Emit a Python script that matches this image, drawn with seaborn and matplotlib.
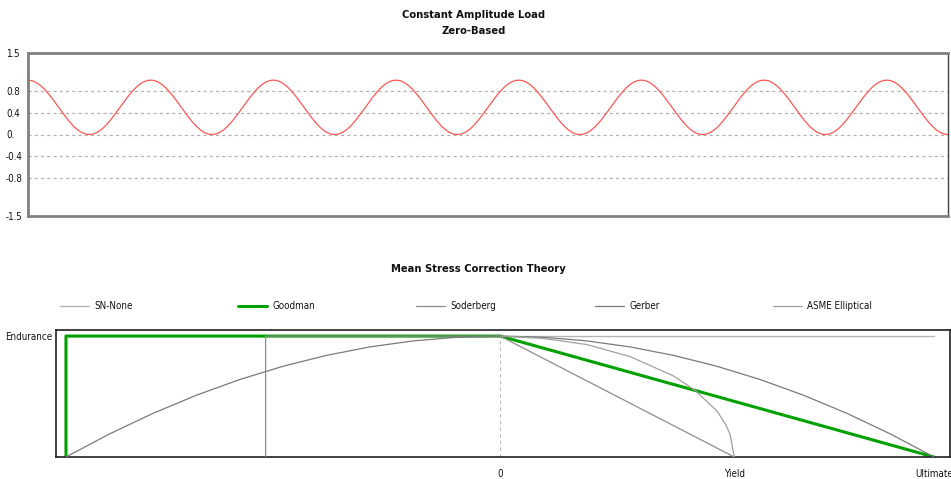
import numpy as np
import pandas as pd
import matplotlib
matplotlib.use("Agg")
import matplotlib.pyplot as plt
from matplotlib.legend import Legend
import seaborn as sns

# ---------------- data ----------------
# Constant amplitude, zero-based load
load_max = 1.0
load_min = 0.0
n_cycles = 7.5
load_yticks = [1.5, 0.8, 0.4, 0.0, -0.4, -0.8, -1.5]
load_yticklabels = ["1.5", "0.8", "0.4", "0.", "-0.4", "-0.8", "-1.5"]
load_grid = [0.8, 0.4, 0.0, -0.4, -0.8]

# Mean stress correction (x: mean stress / ultimate, y: alternating / endurance)
endurance = 1.0
yield_s = 0.54
ultimate = 1.0

sn_none_x = [-1.0, 1.0]
sn_none_y = [1.0, 1.0]

goodman_x = [-1.0, -1.0, 0.0, 1.0]
goodman_y = [0.0, 1.0, 1.0, 0.0]

soderberg_x = [-0.54, -0.54, 0.0, 0.54]
soderberg_y = [0.0, 1.0, 1.0, 0.0]

gerber_x = [-1.0, -0.9, -0.8, -0.7, -0.6, -0.5, -0.4, -0.3, -0.2, -0.1, 0.0,
            0.1, 0.2, 0.3, 0.4, 0.5, 0.6, 0.7, 0.8, 0.9, 1.0]
gerber_y = [0.0, 0.19, 0.36, 0.51, 0.64, 0.75, 0.84, 0.91, 0.96, 0.99, 1.0,
            0.99, 0.96, 0.91, 0.84, 0.75, 0.64, 0.51, 0.36, 0.19, 0.0]

asme_x = [0.0, 0.1, 0.2, 0.3, 0.4, 0.45, 0.5, 0.52, 0.53, 0.54]
asme_y = [1.0, 0.98, 0.93, 0.83, 0.67, 0.55, 0.38, 0.27, 0.19, 0.0]

mean_xticks = [0.0, yield_s, ultimate]
mean_xticklabels = ["0", "Yield", "Ultimate"]

# ---------------- style ----------------
sns.set_style("white")
plt.rcParams["font.family"] = ["Liberation Sans Narrow", "DejaVu Sans Condensed",
                               "DejaVu Sans"]
plt.rcParams["font.stretch"] = "condensed"

fig = plt.figure(figsize=(9.51, 4.79), dpi=100)
PT = 72 / 100  # points per pixel

# ---------- top chart ----------
ax1 = fig.add_axes([28 / 951, 1 - 216 / 479, 920 / 951, 163 / 479])
t = np.linspace(0, n_cycles, 1500)
mean_l = (load_max + load_min) / 2
amp_l = (load_max - load_min) / 2
load_df = pd.DataFrame({"t": t, "load": mean_l + amp_l * np.cos(2 * np.pi * t)})
for g in load_grid:
    ax1.axhline(g, color="#b0b0b0", lw=0.9, ls=(0, (2.5, 2.5)), zorder=0)
sns.lineplot(data=load_df, x="t", y="load", ax=ax1, color="#ff5555", lw=0.9)
ax1.set_xlim(0, n_cycles)
ax1.set_ylim(-1.5, 1.5)
ax1.set_xticks([])
ax1.set_yticks(load_yticks)
ax1.set_yticklabels(load_yticklabels, fontsize=7, ha="left", color="#101010")
ax1.tick_params(axis="y", length=6 * PT, width=0.8, color="#a0a0a0",
                pad=(28 - 6 - 6) * PT)
ax1.set_xlabel("")
ax1.set_ylabel("")
for side in ["top", "left", "bottom"]:
    ax1.spines[side].set_color("#808080")
    ax1.spines[side].set_linewidth(2.0)
ax1.spines["right"].set_color("#404040")
ax1.spines["right"].set_linewidth(1.0)
fig.text(474 / 951, 1 - 15 / 479, "Constant Amplitude Load", ha="center", va="center",
         fontsize=8, fontweight="bold", color="#101010")
fig.text(474 / 951, 1 - 31 / 479, "Zero-Based", ha="center", va="center",
         fontsize=8, fontweight="bold", color="#101010")

# ---------- bottom chart ----------
ax2 = fig.add_axes([56 / 951, 1 - 457 / 479, 894 / 951, 127 / 479])
ax2.axvline(0, color="#b8b8b8", lw=0.8, ls=(0, (3, 3)), zorder=0)

series = [
    ("SN-None", sn_none_x, sn_none_y, "#b4b4b4", 1.0, 1),
    ("Goodman", goodman_x, goodman_y, "#00a000", 2.2, 2),
    ("Soderberg", soderberg_x, soderberg_y, "#8c8c8c", 0.9, 3),
    ("Gerber", gerber_x, gerber_y, "#7a7a7a", 0.9, 3),
    ("ASME Elliptical", asme_x, asme_y, "#a0a0a0", 0.9, 3),
]
for name, xs, ys, col, lw, z in series:
    d = pd.DataFrame({"x": xs, "y": ys})
    sns.lineplot(data=d, x="x", y="y", ax=ax2, color=col, lw=lw, sort=False,
                 estimator=None, label=name, zorder=z)

ax2.set_xlim(-1.023, 1.037)
ax2.set_ylim(0, 1.05)
ax2.set_xticks(mean_xticks)
ax2.set_xticklabels(mean_xticklabels, fontsize=7, color="#101010")
ax2.set_yticks([endurance])
ax2.set_yticklabels(["Endurance"], fontsize=7, ha="left", color="#101010")
ax2.tick_params(axis="y", length=0, pad=(56 - 5) * PT)
ax2.tick_params(axis="x", length=0, pad=12 * PT)
ax2.set_xlabel("")
ax2.set_ylabel("")
for s in ax2.spines.values():
    s.set_color("#202020")
    s.set_linewidth(1.2)

handles, labels = ax2.get_legend_handles_labels()
ax2.get_legend().remove()
legend_px = [60, 238, 416, 595, 773]
for h, lab, px in zip(handles, labels, legend_px):
    lg = Legend(ax2, [h], [lab], frameon=False, loc="center left",
                bbox_to_anchor=((px - 56) / 894, 151 / 127),
                fontsize=7, handlelength=3.0, handletextpad=0.5,
                borderaxespad=0, borderpad=0, labelcolor="#101010")
    ax2.add_artist(lg)

fig.text(478 / 951, 1 - 269 / 479, "Mean Stress Correction Theory", ha="center",
         va="center", fontsize=8, fontweight="bold", color="#101010")

fig.savefig("out.png", dpi=100)
